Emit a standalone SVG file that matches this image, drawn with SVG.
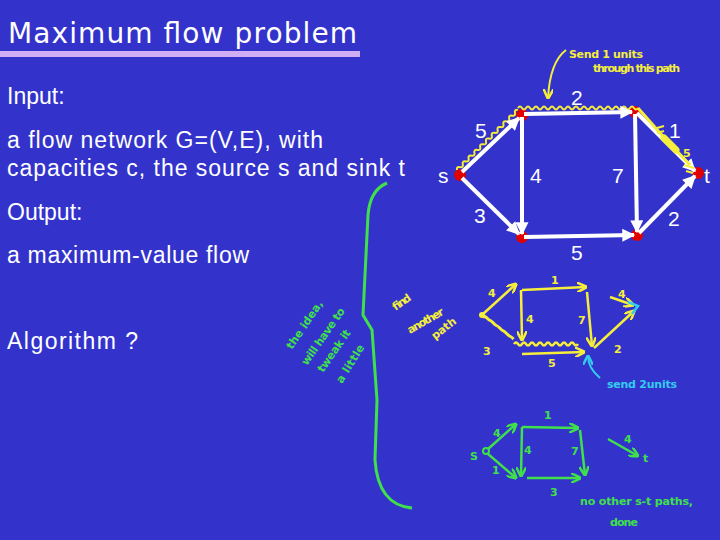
<svg xmlns="http://www.w3.org/2000/svg" width="720" height="540" viewBox="0 0 720 540">
<defs>
<style>
.main{font-family:"Liberation Sans","DejaVu Sans",sans-serif;fill:#ffffff;font-size:23px}
.lbl{font-family:"Liberation Sans","DejaVu Sans",sans-serif;fill:#ffffff;font-size:21px}
.hand{font-family:"DejaVu Sans",sans-serif;font-weight:bold;font-size:11px}
.y{fill:#f5ee3a}
.g{fill:#3fe04a}
.c{fill:#33ccee}
.we{stroke:#ffffff;stroke-width:4;fill:none;marker-end:url(#wa)}
.ye{stroke:#f5ee3a;stroke-width:2.5;fill:none;marker-end:url(#ya)}
.ge{stroke:#3fe04a;stroke-width:2.5;fill:none;marker-end:url(#ga)}
.node{fill:#e00000}
</style>
<marker id="wa" viewBox="0 0 10 10" refX="9" refY="5" markerUnits="userSpaceOnUse" markerWidth="15" markerHeight="13" orient="auto"><path d="M0,0 L10,5 L0,10 z" fill="#ffffff"/></marker>
<marker id="ya" viewBox="0 0 10 10" refX="9" refY="5" markerUnits="userSpaceOnUse" markerWidth="10" markerHeight="10" orient="auto"><path d="M0,0 L10,5 L0,10" fill="none" stroke="#f5ee3a" stroke-width="2.5"/></marker>
<marker id="ga" viewBox="0 0 10 10" refX="9" refY="5" markerUnits="userSpaceOnUse" markerWidth="10" markerHeight="10" orient="auto"><path d="M0,0 L10,5 L0,10" fill="none" stroke="#3fe04a" stroke-width="2.5"/></marker>
<marker id="ca" viewBox="0 0 10 10" refX="9" refY="5" markerUnits="userSpaceOnUse" markerWidth="10" markerHeight="10" orient="auto"><path d="M0,0 L10,5 L0,10" fill="none" stroke="#33ccee" stroke-width="2.5"/></marker>
</defs>
<rect x="0" y="0" width="720" height="540" fill="#3333cc"/>

<!-- title -->
<g id="title">
<text x="8" y="43" font-family="'DejaVu Sans',sans-serif" font-size="28" fill="#ffffff" textLength="349">Maximum flow problem</text>
<rect x="0" y="51" width="360" height="6" fill="#cfaef5"/>
</g>

<!-- left text -->
<g id="text-left">
<text class="main" x="7" y="104">Input:</text>
<text class="main" x="7" y="148" textLength="316">a flow network G=(V,E), with</text>
<text class="main" x="7" y="176" textLength="398">capacities c, the source s and sink t</text>
<text class="main" x="7" y="220">Output:</text>
<text class="main" x="7" y="263" textLength="242">a maximum-value flow</text>
<text class="main" x="7" y="349" textLength="131">Algorithm ?</text>
</g>

<!-- main graph nodes -->
<g id="node-s"><circle class="node" cx="460" cy="175" r="6"/><text class="lbl" x="438" y="183">s</text></g>
<g id="node-v1"><circle class="node" cx="522" cy="115" r="6"/></g>
<g id="node-v2"><circle class="node" cx="635" cy="112" r="6"/></g>
<g id="node-v3"><circle class="node" cx="522" cy="237" r="6"/></g>
<g id="node-v4"><circle class="node" cx="637" cy="235" r="6"/></g>
<g id="node-t"><circle class="node" cx="698" cy="173" r="6"/><text class="lbl" x="704" y="183">t</text></g>

<!-- yellow highlight under -->
<g id="highlight">
<path d="M457,170 q-0.65,-3.56 2.9,-2.86 t2.9,-2.86 t2.9,-2.86 t2.9,-2.86 t2.9,-2.86 t2.9,-2.86 t2.9,-2.86 t2.9,-2.86 t2.9,-2.86 t2.9,-2.86 t2.9,-2.86 t2.9,-2.86 t2.9,-2.86 t2.9,-2.86 t2.9,-2.86 t2.9,-2.86 t2.9,-2.86 t2.9,-2.86 t2.9,-2.86 t2.9,-2.86 t2.9,-2.86" fill="none" stroke="#f5ee3a" stroke-width="2"/>
<path d="M518,108 q2,-3 4,0 t4,0 t4,0 t4,0 t4,0 t4,0 t4,0 t4,0 t4,0 t4,0 t4,0 t4,0 t4,0 t4,0 t4,0 t4,0 t4,0 t4,0 t4,0 t4,0 t4,0 t4,0 t4,0 t4,0 t4,0 t4,0 t4,0 t4,0 t4,0 t4,0" fill="none" stroke="#f5ee3a" stroke-width="2"/>
</g>

<!-- connectors -->
<g id="connectors">
<line class="we" x1="462" y1="172" x2="519" y2="118"/>
<line class="we" x1="524" y1="114" x2="632" y2="112"/>
<line class="we" x1="522" y1="117" x2="522" y2="234"/>
<line class="we" x1="462" y1="178" x2="519" y2="234"/>
<line class="we" x1="524" y1="237" x2="634" y2="235"/>
<line class="we" x1="635" y1="114" x2="637" y2="232"/>
<line class="we" x1="639" y1="233" x2="695" y2="176"/>
<line class="we" x1="637" y1="113" x2="695" y2="171"/>
<path d="M638,108 L660,133 L690,165" fill="none" stroke="#f5ee3a" stroke-width="3"/>
<path d="M664,138 L676,150" fill="none" stroke="#f5ee3a" stroke-width="7" stroke-linecap="round"/>
<path d="M684,165 L694,168 M686,171 L693,173" stroke="#f5ee3a" stroke-width="2"/>
</g>

<!-- main graph labels -->
<g id="edge-labels">
<text class="lbl" x="475" y="138">5</text>
<text class="lbl" x="571" y="105">2</text>
<text class="lbl" x="669" y="138">1</text>
<path d="M657,128 L664,126 M657,133 L664,131" stroke="#f5ee3a" stroke-width="2"/>
<text class="hand y" x="683" y="157" font-size="13">5</text>
<text class="lbl" x="530" y="183">4</text>
<text class="lbl" x="612" y="183">7</text>
<text class="lbl" x="474" y="223">3</text>
<text class="lbl" x="668" y="226">2</text>
<text class="lbl" x="571" y="260">5</text>
</g>

<!-- annotation: send units -->
<g id="note-send">
<path d="M566,50 Q550,62 548,98" fill="none" stroke="#f5ee3a" stroke-width="2" marker-end="url(#ya)"/>
<text class="hand y" x="569" y="58" textLength="74">Send 1 units</text>
<text class="hand y" x="593" y="72" textLength="87">through this path</text>
</g>

<!-- green brace -->
<g id="brace">
<path d="M387,183 Q370,190 368,215 L363,315 L372,330 L377,400 L375,460 Q378,505 412,508" fill="none" stroke="#3fe04a" stroke-width="3"/>
</g>

<!-- green rotated note -->
<g id="note-idea">
<text class="hand g" transform="translate(292,350) rotate(-56)" textLength="56">the idea,</text>
<text class="hand g" transform="translate(307,366) rotate(-55)" textLength="67">will have to</text>
<text class="hand g" transform="translate(323,373) rotate(-55)" textLength="49">tweak it</text>
<text class="hand g" transform="translate(342,384) rotate(-58)" textLength="43">a little</text>
</g>

<!-- yellow find another path -->
<g id="note-find">
<text class="hand y" transform="translate(394,312) rotate(-35)" textLength="20">find</text>
<text class="hand y" transform="translate(410,334) rotate(-30)" textLength="40">another</text>
<text class="hand y" transform="translate(435,340) rotate(-38)" textLength="28">path</text>
</g>

<!-- middle yellow graph -->
<g id="graph2">
<circle cx="482" cy="315" r="3" fill="#f5ee3a"/>
<line class="ye" x1="483" y1="314" x2="516" y2="284"/>
<line class="ye" x1="522" y1="290" x2="586" y2="287"/>
<line class="ye" x1="521" y1="290" x2="522" y2="340"/>
<line class="ye" x1="587" y1="292" x2="592" y2="346"/>
<line class="ye" x1="522" y1="354" x2="584" y2="352"/>
<path d="M483,318 q1,-3 3.4,-0.5 t3.4,2.7 t3.4,2.7 t3.4,2.7 t3.4,2.7 t3.4,2.7 t3.4,2.7 t3.4,2.7 t3.4,2.7" fill="none" stroke="#f5ee3a" stroke-width="3"/>
<path d="M514,344 q2,-3 4,0 t4,0 t4,0 t4,0 t4,0 t4,0 t4,0 t4,0 t4,0 t4,0 t4,0 t4,0 t4,0 t4,0 t4,0 t4,0" fill="none" stroke="#f5ee3a" stroke-width="2.5"/>
<line class="ye" x1="594" y1="348" x2="634" y2="311"/>
<line class="ye" x1="610" y1="297" x2="633" y2="305"/>
<path d="M628,302 L638,306 L632,314" fill="none" stroke="#33ccee" stroke-width="2.5"/>
<text class="hand y" x="488" y="297" font-size="12">4</text>
<text class="hand y" x="551" y="284" font-size="12">1</text>
<text class="hand y" x="526" y="323" font-size="12">4</text>
<text class="hand y" x="578" y="324" font-size="12">7</text>
<text class="hand y" x="483" y="355" font-size="14">3</text>
<text class="hand y" x="548" y="367" font-size="12">5</text>
<text class="hand y" x="614" y="353" font-size="14">2</text>
<text class="hand y" x="618" y="298" font-size="12">4</text>
</g>

<!-- cyan note -->
<g id="note-send2">
<path d="M600,378 Q588,368 588,356" fill="none" stroke="#33ccee" stroke-width="2" marker-end="url(#ca)"/>
<text class="hand c" x="607" y="388" textLength="70">send 2units</text>
</g>

<!-- bottom green graph -->
<g id="graph3">
<text class="hand g" x="470" y="460" font-size="13">S</text>
<circle cx="486" cy="451" r="3" fill="none" stroke="#3fe04a" stroke-width="2"/>
<line class="ge" x1="488" y1="449" x2="516" y2="424"/>
<line class="ge" x1="522" y1="427" x2="578" y2="428"/>
<line class="ge" x1="522" y1="427" x2="521" y2="476"/>
<line class="ge" x1="580" y1="430" x2="585" y2="475"/>
<line class="ge" x1="488" y1="454" x2="516" y2="478"/>
<line class="ge" x1="527" y1="478" x2="580" y2="478"/>
<line class="ge" x1="608" y1="439" x2="638" y2="456"/>
<text class="hand g" x="544" y="419" font-size="11">1</text>
<text class="hand g" x="493" y="437" font-size="11">4</text>
<text class="hand g" x="524" y="454" font-size="11">4</text>
<text class="hand g" x="571" y="455" font-size="11">7</text>
<text class="hand g" x="492" y="474" font-size="11">1</text>
<text class="hand g" x="550" y="496" font-size="14">3</text>
<text class="hand g" x="624" y="443" font-size="11">4</text>
<text class="hand g" x="643" y="462" font-size="16">t</text>
<text class="hand g" x="580" y="505" textLength="113">no other s-t paths,</text>
<text class="hand g" x="610" y="526" textLength="28">done</text>
</g>
</svg>
